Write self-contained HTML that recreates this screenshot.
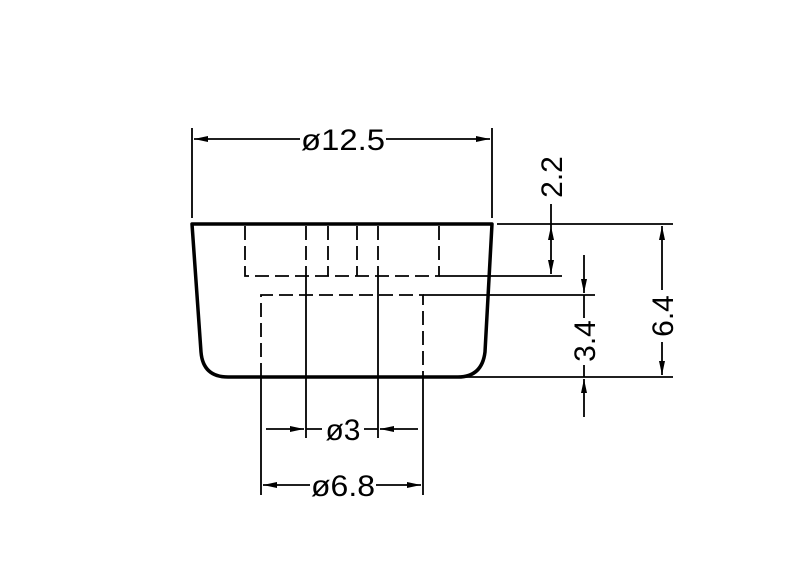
<!DOCTYPE html>
<html><head><style>body{margin:0;background:#fff}svg{display:block}</style></head><body>
<svg width="800" height="576" viewBox="0 0 800 576" xmlns="http://www.w3.org/2000/svg">
<defs>
<marker id="a" viewBox="0 0 14 6" refX="14" refY="3" markerWidth="14" markerHeight="6" markerUnits="userSpaceOnUse" orient="auto"><path d="M0,0 L14,3 L0,6 z" fill="#000"/></marker>
</defs>
<g fill="none" stroke="#000">
<path d="M192,224 L492,224 L485,352 Q482,377 458,377 L228,377 Q203,377 201,352 Z" stroke-width="3.5" stroke-linejoin="round"/>
<g stroke-width="1.8" stroke-dasharray="14,6">
<path d="M245,226 V276 H439 V226"/>
<path d="M306,226 V276 M328,226 V276 M357,226 V276 M378,226 V276"/>
<path d="M261,377 V295 H423 V377"/>
</g>
<g stroke-width="1.8">
<path d="M306,276 V438 M378,276 V438"/>
<path d="M261,377 V495 M423,377 V495"/>
<path d="M192,218 V128 M492,218 V128"/>
<path d="M497,224 H673 M465,377 H673"/>
<path d="M439,276 H562 M423,295 H595"/>
<path d="M300,139 H194" marker-end="url(#a)"/>
<path d="M386,139 H490" marker-end="url(#a)"/>
<path d="M551,204 V226" />
<path d="M551,250 V226" marker-end="url(#a)"/>
<path d="M551,250 V274" marker-end="url(#a)"/>
<path d="M584,255 V293" marker-end="url(#a)"/>
<path d="M584,318 V295"/>
<path d="M584,365 V377"/>
<path d="M584,417 V379" marker-end="url(#a)"/>
<path d="M662,290 V226" marker-end="url(#a)"/>
<path d="M662,342 V375" marker-end="url(#a)"/>
<path d="M266,429 H304" marker-end="url(#a)"/>
<path d="M418,429 H380" marker-end="url(#a)"/>
<path d="M306,429 H322 M364,429 H378"/>
<path d="M310,485 H263" marker-end="url(#a)"/>
<path d="M376,485 H421" marker-end="url(#a)"/>
</g>
</g>
<g font-family="Liberation Sans, sans-serif" font-size="30" fill="#000" text-anchor="middle">
<text x="343" y="150" textLength="84" lengthAdjust="spacingAndGlyphs">ø12.5</text>
<text x="343" y="440">ø3</text>
<text x="343" y="496" textLength="64" lengthAdjust="spacingAndGlyphs">ø6.8</text>
<text transform="translate(562,177) rotate(-90)">2.2</text>
<text transform="translate(595,341) rotate(-90)">3.4</text>
<text transform="translate(673,316) rotate(-90)">6.4</text>
</g>
</svg>
</body></html>
